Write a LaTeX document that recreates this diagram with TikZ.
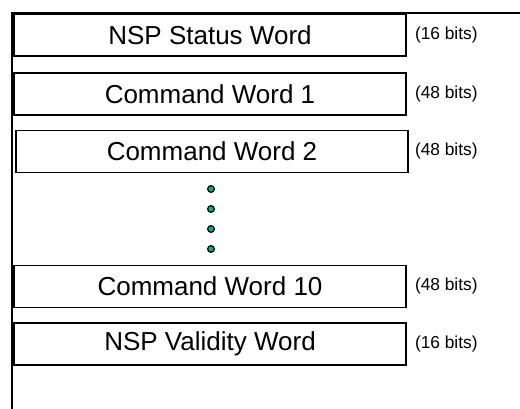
\documentclass[tikz,border=0pt]{standalone}
\usepackage{fontspec}
\setmainfont{Liberation Sans}
\usetikzlibrary{positioning}
\definecolor{dotgreen}{RGB}{0,175,140}
\tikzset{
	word/.style={draw, line width=1.1pt, minimum width=294pt, minimum height=31.5pt,
		inner sep=0pt, font=\fontsize{19.5}{19.5}\selectfont},
	bits/.style={inner sep=1pt, font=\fontsize{13}{13}\selectfont},
	gap/.style={circle, draw, line width=0.9pt, fill=dotgreen, minimum size=5pt, inner sep=0pt}
}
\begin{document}
\begin{tikzpicture}[x=0.75pt,y=-0.75pt]
		\useasboundingbox (0,0) rectangle (520,409);
		% frame
		\coordinate (corner) at (12,13);
		\coordinate (topend) at (520,13);
		\coordinate (bottom) at (12,409);
		\draw[line width=1.5pt] (topend) -- (corner) -- (bottom);
		% words
		\node[word] (status) at (210,35) {NSP Status Word};
		\node[word] (cmdA) at (210,94) {Command Word 1};
		\node[word] (cmdB) at (212,151.5) {Command Word 2};
		\node[word] (cmdJ) at (210,286.5) {Command Word 10};
		\node[word] (valid) at (210,344) {NSP Validity Word};
		% sizes
		\node[bits, right=5pt of status] {(16 bits)};
		\node[bits, right=5pt of cmdA] {(48 bits)};
		\node[bits, right=3.5pt of cmdB] {(48 bits)};
		\node[bits, right=5pt of cmdJ] {(48 bits)};
		\node[bits, right=5pt of valid] {(16 bits)};
		% skipped words
		\foreach \y [count=\i] in {189,209,229,249}
			\node[gap] (dot\i) at (211,\y) {};
	\end{tikzpicture}
\end{document}
